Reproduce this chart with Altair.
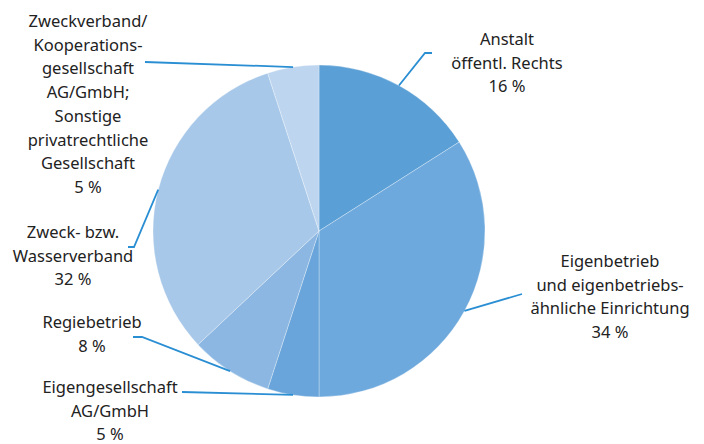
import math
import altair as alt
import pandas as pd

# ---- data ----
categories = [
    "Anstalt öffentl. Rechts",
    "Eigenbetrieb und eigenbetriebsähnliche Einrichtung",
    "Eigengesellschaft AG/GmbH",
    "Regiebetrieb",
    "Zweck- bzw. Wasserverband",
    "Zweckverband/Kooperationsgesellschaft AG/GmbH; Sonstige privatrechtliche Gesellschaft",
]
shares = [16, 34, 5, 8, 32, 5]
label_texts = [
    "Anstalt\nöffentl. Rechts\n16 %",
    "Eigenbetrieb\nund eigenbetriebs-\nähnliche Einrichtung\n34 %",
    "Eigengesellschaft\nAG/GmbH\n5 %",
    "Regiebetrieb\n8 %",
    "Zweck- bzw.\nWasserverband\n32 %",
    "Zweckverband/\nKooperations-\ngesellschaft\nAG/GmbH;\nSonstige\nprivatrechtliche\nGesellschaft\n5 %",
]
colors = ["#5a9fd5", "#6ea9dd", "#69a5da", "#8bb7e2", "#a8c8e9", "#bdd5ef"]

# ---- layout (view pixel coordinates) ----
W, H = 688, 436
CX, CY, R = 311, 223, 166
label_pos = [(499, 32), (602, 254), (102, 380), (84, 315), (65, 225), (80, 14)]
leader_pts = [
    [(417, 45), (424, 45)],
    [(514, 286)],
    [(174, 384)],
    [(134, 329), (125, 329)],
    [(126, 239), (120, 239)],
    [(137, 54)],
]

df = pd.DataFrame({"cat": categories, "share": shares, "idx": range(len(categories))})

rows_t, rows_l = [], []
total = sum(shares)
cum = 0
for i, (c, s) in enumerate(zip(categories, shares)):
    mid = (cum + s / 2) / total * 2 * math.pi
    cum += s
    px = CX + R * math.sin(mid)
    py = CY - R * math.cos(mid)
    pts = [(px, py)] + leader_pts[i]
    for k, (x, y) in enumerate(pts):
        rows_l.append({"g": i, "k": k, "x": x, "y": y})
    rows_t.append({"x": label_pos[i][0], "y": label_pos[i][1], "t": label_texts[i]})

lines_df = pd.DataFrame(rows_l)
text_df = pd.DataFrame(rows_t)

xs = alt.Scale(domain=[0, W], range=[0, W])
ys = alt.Scale(domain=[0, H], range=[0, H])

pie = alt.Chart(df).mark_arc(radius=R, stroke="#ffffff", strokeWidth=0.6, strokeOpacity=0.5).encode(
    theta=alt.Theta("share:Q", stack=True),
    order=alt.Order("idx:Q", sort="ascending"),
    color=alt.Color("cat:N", scale=alt.Scale(domain=categories, range=colors), legend=None),
    x=alt.value(CX),
    y=alt.value(CY),
)

leaders = alt.Chart(lines_df).mark_line(color="#2a8ed3", strokeWidth=1.8).encode(
    x=alt.X("x:Q", scale=xs, axis=None),
    y=alt.Y("y:Q", scale=ys, axis=None),
    detail="g:N",
    order="k:Q",
)

labels = alt.Chart(text_df).mark_text(
    font="Noto Sans", fontSize=16.5, color="#222222", lineHeight=23.7,
    align="center", baseline="middle", lineBreak="\n",
).encode(
    x=alt.X("x:Q", scale=xs, axis=None),
    y=alt.Y("y:Q", scale=ys, axis=None),
    text="t:N",
)

chart = alt.layer(pie, leaders, labels).properties(
    width=W, height=H, padding=0, autosize=alt.AutoSizeParams(type="none"),
    background="#ffffff",
).configure_view(stroke=None, strokeWidth=0)

chart.save("out.html", embed_options={"renderer": "svg", "actions": False})
